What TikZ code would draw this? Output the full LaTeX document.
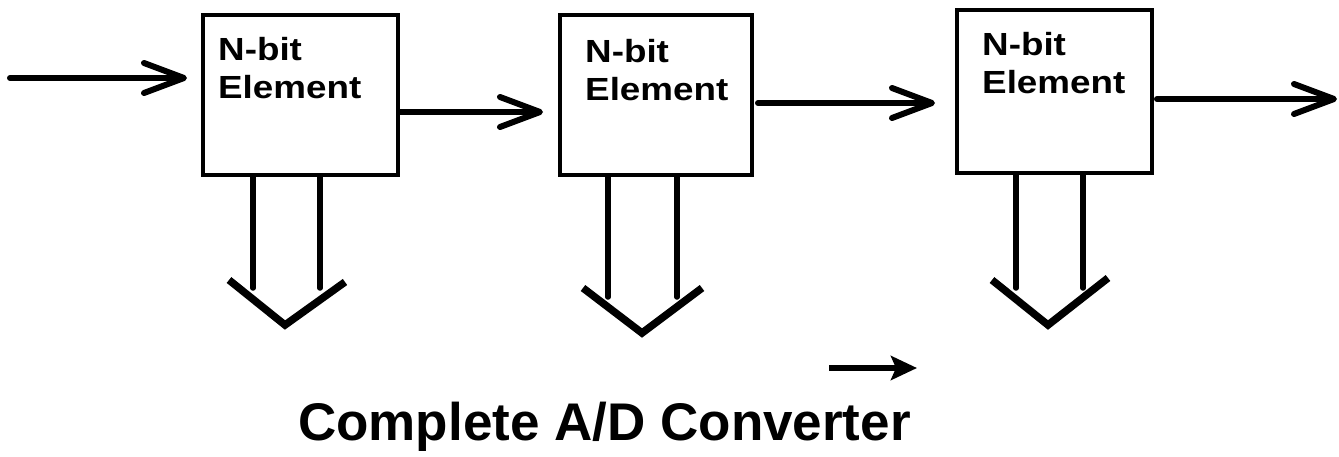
\documentclass[tikz,border=0pt]{standalone}
\usepackage{fontspec}
\setmainfont{Liberation Sans}
\newfontfamily\boxfont{Liberation Sans}[FakeStretch=1.15]
\usetikzlibrary{arrows.meta}

\tikzset{
  elem/.style={draw, line width=4.5pt, inner sep=0pt, outer sep=0pt, anchor=north west},
  elemtext/.style={anchor=base west, inner sep=0pt, align=left,
    font=\boxfont\bfseries\fontsize{32}{38}\selectfont},
  flow/.style={line width=6pt, line cap=round,
    -{Straight Barb[length=40pt,width=30pt,round]}},
  busline/.style={line width=5.5pt, line cap=round},
  bushead/.style={line width=7.5pt, line cap=butt, line join=miter},
  hint/.style={line width=6pt, -{Stealth[length=26pt,width=24pt,inset=5pt]}},
  caption/.style={anchor=base west, inner sep=0pt,
    font=\bfseries\fontsize{53}{60}\selectfont}
}

\begin{document}
\begin{tikzpicture}[x=1pt,y=-1pt]
\useasboundingbox (0,0) rectangle (1339,456);

% the three converter stages
\node[elem, minimum width=195pt, minimum height=160pt] (b1) at (203,15) {};
\node[elem, minimum width=192pt, minimum height=160pt] (b2) at (560,15) {};
\node[elem, minimum width=195pt, minimum height=163pt] (b3) at (957,10) {};

% labels (base anchor = baseline of the last line)
\node[elemtext] (t1) at (218,98) {N-bit\\Element};
\node[elemtext] (t2) at (585,100) {N-bit\\Element};
\node[elemtext] (t3) at (982,93) {N-bit\\Element};

% serial chain between the stages
\coordinate (in)  at (10,78);
\coordinate (y12) at (0,112);
\coordinate (y23) at (0,103);
\coordinate (out) at (1337,99);

\draw[flow, shorten >=16pt] (in) -- (in -| b1.west);
\draw[flow, shorten <=2pt, shorten >=17pt] (b1.east |- y12) -- (b2.west |- y12);
\draw[flow, shorten <=6pt, shorten >=22pt] (b2.east |- y23) -- (b3.west |- y23);
\draw[flow, shorten <=5pt] (b3.east |- out) -- (out);

% parallel N-bit outputs (wide arrows)
\draw[busline] (253,176) -- (253,288);
\draw[busline] (320,176) -- (320,288);
\draw[bushead] (229,280) -- (285,325) -- (345,282);

\draw[busline] (608,176) -- (608,297);
\draw[busline] (677,176) -- (677,297);
\draw[bushead] (583,288) -- (642,333) -- (702,288);

\draw[busline] (1016,174) -- (1016,288);
\draw[busline] (1083,174) -- (1083,288);
\draw[bushead] (992,280) -- (1048,325) -- (1108,278);

% direction hint and caption
\coordinate (ha) at (829,368);
\coordinate (hb) at (917,368);
\draw[hint] (ha) -- (hb);

\node[caption] (title) at (298,440) {Complete A/D Converter};
\end{tikzpicture}
\end{document}
